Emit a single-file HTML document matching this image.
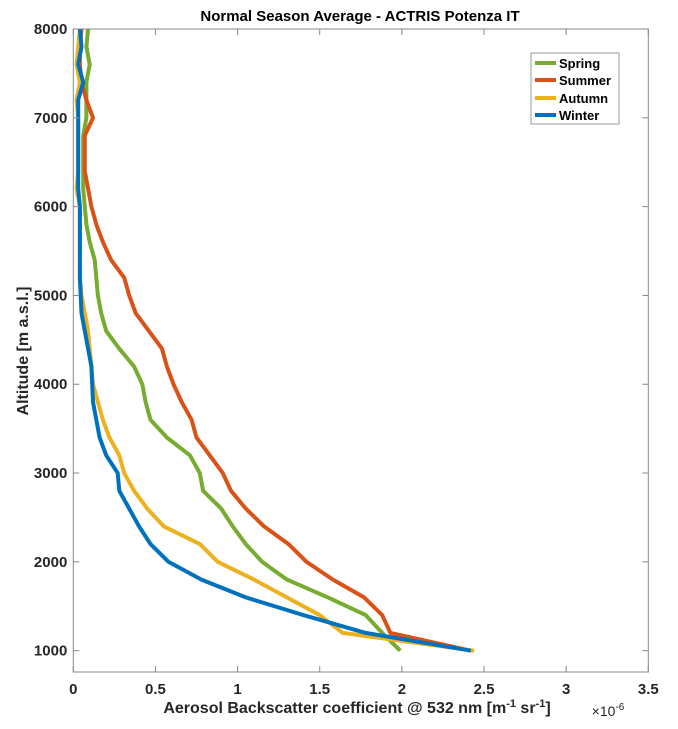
<!DOCTYPE html>
<html><head><meta charset="utf-8"><style>
body{margin:0;background:#fff;}
svg{display:block;font-family:"Liberation Sans",Arial,sans-serif;}
</style></head><body>
<svg id="chart" width="678" height="729">
<g id="grid"></g>
<g id="lines"></g>
<g id="axes"></g>
</svg>
<script>
const altitudes=[1000,1200,1400,1600,1800,2000,2200,2400,2600,2800,3000,3200,3400,3600,3800,4000,4200,4400,4600,4800,5000,5200,5400,5600,5800,6000,6200,6400,6600,6800,7000,7200,7400,7600,7800,8000];
const spring=[1.99,1.88,1.78,1.55,1.3,1.15,1.05,0.97,0.9,0.79,0.77,0.71,0.57,0.47,0.44,0.42,0.37,0.28,0.2,0.17,0.15,0.14,0.13,0.1,0.08,0.07,0.06,0.06,0.06,0.06,0.08,0.08,0.08,0.1,0.08,0.09];
const summer=[2.42,1.93,1.88,1.77,1.58,1.42,1.31,1.16,1.05,0.96,0.91,0.83,0.75,0.72,0.66,0.61,0.57,0.54,0.46,0.38,0.34,0.31,0.23,0.18,0.14,0.11,0.09,0.07,0.07,0.07,0.12,0.08,0.05,0.04,0.04,0.05];
const autumn=[2.44,1.64,1.5,1.3,1.1,0.88,0.77,0.55,0.45,0.37,0.31,0.28,0.22,0.18,0.15,0.12,0.11,0.1,0.09,0.07,0.05,0.04,0.04,0.04,0.04,0.04,0.02,0.03,0.03,0.03,0.03,0.02,0.04,0.02,0.03,0.04];
const winter=[2.42,1.78,1.4,1.05,0.78,0.58,0.47,0.4,0.34,0.28,0.27,0.2,0.16,0.14,0.12,0.115,0.11,0.09,0.07,0.05,0.045,0.04,0.04,0.04,0.04,0.04,0.03,0.03,0.03,0.03,0.03,0.03,0.06,0.03,0.05,0.04];
const seriesNames=["Spring","Summer","Autumn","Winter"];
const seriesColors=["#77AC30","#D95319","#EDB120","#0072BD"];
const xTicks=[0,0.5,1,1.5,2,2.5,3,3.5];
const yTicks=[1000,2000,3000,4000,5000,6000,7000,8000];
const L=73.3,R=648.3,T=29,B=672;
const xMin=0,xMax=3.5,yMin=1000-(B-650.7)/0.0887,yMax=8000;
const xs=v=>L+(v-xMin)/(xMax-xMin)*(R-L);
const ys=v=>B-(v-yMin)/(yMax-yMin)*(B-T);
const NS="http://www.w3.org/2000/svg";
function mk(tag,attrs,parent,text){const e=document.createElementNS(NS,tag);for(const k in attrs)e.setAttribute(k,attrs[k]);if(text!==undefined)e.textContent=text;parent.appendChild(e);return e;}
const axes=document.getElementById('axes'),lines=document.getElementById('lines');
const data=[spring,summer,autumn,winter];
data.forEach((s,i)=>{
  const p=mk('polyline',{points:s.map((v,j)=>xs(v).toFixed(1)+','+ys(altitudes[j]).toFixed(1)).join(' '),fill:'none',stroke:seriesColors[i],'stroke-width':4,'stroke-linejoin':'round'},lines);
  
  
});
const box=mk('rect',{x:L,y:T,width:R-L,height:B-T,fill:'none',stroke:'#888','stroke-width':1},axes);


xTicks.forEach(t=>{
  const x=xs(t);
  mk('line',{x1:x,y1:B,x2:x,y2:B-6,stroke:'#888'},axes);
  mk('line',{x1:x,y1:T,x2:x,y2:T+6,stroke:'#888'},axes);
  const tx=mk('text',{x:x,y:B+22,'text-anchor':'middle','font-size':15,'font-weight':'bold',fill:'#262626'},axes,String(t));
  
  
});
yTicks.forEach(t=>{
  const y=ys(t);
  mk('line',{x1:L,y1:y,x2:L+6,y2:y,stroke:'#888'},axes);
  mk('line',{x1:R,y1:y,x2:R-6,y2:y,stroke:'#888'},axes);
  const tx=mk('text',{x:L-6,y:y+5,'text-anchor':'end','font-size':15,'font-weight':'bold',fill:'#262626'},axes,String(t));
  
  
});
</script>
<svg width="0" height="0"></svg>
<div style="position:absolute;left:0;top:0;width:678px;height:729px;pointer-events:none">
<svg width="678" height="729" style="font-family:'Liberation Sans',Arial,sans-serif">
<text x="360" y="21" text-anchor="middle" font-size="15" font-weight="bold" fill="#000">Normal Season Average - ACTRIS Potenza IT</text>
<text x="357" y="713" text-anchor="middle" font-size="16" font-weight="bold" fill="#262626">Aerosol Backscatter coefficient @ 532 nm [m<tspan font-size="11" dy="-6">-1</tspan><tspan dy="6"> sr</tspan><tspan font-size="11" dy="-6">-1</tspan><tspan dy="6">]</tspan></text>
<text x="608" y="716" text-anchor="middle" font-size="14" fill="#262626">×10<tspan font-size="10" dy="-6">-6</tspan></text>
<text transform="translate(28,351) rotate(-90)" text-anchor="middle" font-size="16" font-weight="bold" fill="#262626">Altitude [m a.s.l.]</text>
<g>
<rect x="531" y="53" width="88" height="71" fill="#fff" stroke="#999" stroke-width="1"/>
<line x1="535" y1="63" x2="556" y2="63" stroke="#77AC30" stroke-width="4"/>
<text x="559" y="68" font-size="13" font-weight="bold">Spring</text>
<line x1="535" y1="80" x2="556" y2="80" stroke="#D95319" stroke-width="4"/>
<text x="559" y="85" font-size="13" font-weight="bold">Summer</text>
<line x1="535" y1="98" x2="556" y2="98" stroke="#EDB120" stroke-width="4"/>
<text x="559" y="103" font-size="13" font-weight="bold">Autumn</text>
<line x1="535" y1="115" x2="556" y2="115" stroke="#0072BD" stroke-width="4"/>
<text x="559" y="120" font-size="13" font-weight="bold">Winter</text>
</g>
</svg>
</div>
</body></html>
